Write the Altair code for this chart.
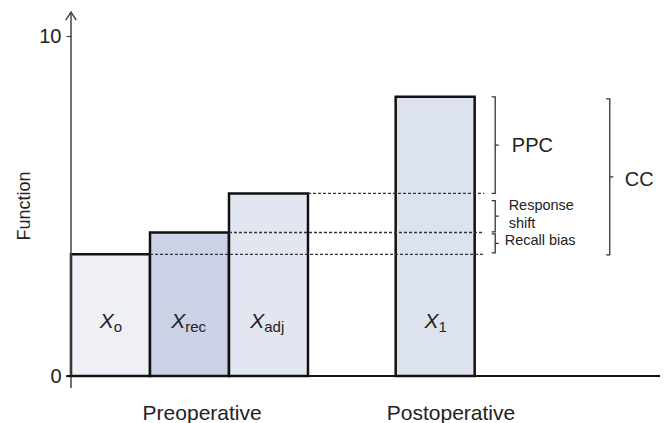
import altair as alt
import pandas as pd

# ---- data ----
bar_subs = ["o", "rec", "adj", "1"]
bar_start = [0.0, 1.0, 2.0, 4.11]
bar_values = [3.58, 4.22, 5.37, 8.21]
bar_colors = ["#eef0f6", "#cbd2e5", "#e2e6f1", "#dde2ef"]
bar_width = 1.0

dash_end = 5.23

bracket_names = ["PPC", "Response shift", "Recall bias", "CC"]
bracket_top = [8.21, 5.16, 4.18, 8.15]
bracket_bottom = [5.37, 4.24, 3.62, 3.56]
bracket_x = [5.37, 5.37, 5.37, 6.82]

y_ticks = [0, 10]
group_labels = ["Preoperative", "Postoperative"]
group_label_x = [1.66, 4.81]

FONT = "Liberation Sans"
XMAX = 7.456

# ---- tables ----
bars = pd.DataFrame({
    "sub": bar_subs,
    "x0": bar_start,
    "x1": [s + bar_width for s in bar_start],
    "v": bar_values,
})
bars["center"] = bars["x0"] + bar_width / 2
bars["lab_x"] = bars["center"] - (14 + bars["sub"].str.len() * 7.5) / 2 / 79
bars["yl"] = 1.41

dashes = pd.DataFrame({
    "x0": [s + bar_width for s in bar_start[:3]],
    "x1": [dash_end] * 3,
    "v": bar_values[:3],
})

rows = []
s = 0.045
for i, (nm, t, b, bx) in enumerate(zip(bracket_names, bracket_top, bracket_bottom, bracket_x)):
    m = (t + b) / 2
    pts = [(bx - s, t), (bx, t), (bx, m), (bx + s, m), (bx, m), (bx, b), (bx - s, b)]
    for k, (px, py) in enumerate(pts):
        rows.append({"id": i, "o": k, "x": px, "y": py})
brackets = pd.DataFrame(rows)

xs = alt.Scale(domain=[0, XMAX], nice=False, zero=False)
ys = alt.Scale(domain=[0, 10], nice=False, zero=False)
yax = alt.Axis(values=y_ticks, domain=False, grid=False, title=None,
               tickSize=5, tickColor="#444", tickWidth=1.2,
               labelFontSize=20, labelFont=FONT, labelColor="#222", labelPadding=5)


def X(f):
    return alt.X(f, scale=xs, axis=None)


def Y(f):
    return alt.Y(f, scale=ys, axis=yax)


base_bars = alt.Chart(bars).mark_rect(stroke="#111", strokeWidth=2.5).encode(
    x=X("x0:Q"), x2="x1:Q",
    y=Y("v:Q"), y2=alt.datum(0),
    fill=alt.Fill("sub:N", scale=alt.Scale(domain=bar_subs, range=bar_colors), legend=None),
)

dash_layer = alt.Chart(dashes).mark_rule(color="#333", strokeWidth=1.3, strokeDash=[3, 2]).encode(
    x=X("x0:Q"), x2="x1:Q", y=Y("v:Q"),
)

bracket_layer = alt.Chart(brackets).mark_line(color="#333", strokeWidth=1.3).encode(
    x=X("x:Q"), y=Y("y:Q"), detail="id:N", order="o:Q",
)

# axes drawn by hand (arrowed y axis, thick baseline)
yaxis_line = alt.Chart(pd.DataFrame({"x": [0.0], "y0": [-0.35], "y1": [10.7]})).mark_rule(
    color="#444", strokeWidth=1.5).encode(x=X("x:Q"), y=Y("y0:Q"), y2="y1:Q")
arrow = alt.Chart(pd.DataFrame({"x": [0.0], "y": [10.7]})).mark_point(
    shape="M-1,1.5L0,0L1,1.5", size=110, filled=False, color="#444", strokeWidth=1.5, opacity=1).encode(
    x=X("x:Q"), y=Y("y:Q"))
baseline = alt.Chart(pd.DataFrame({"x0": [-0.06], "x1": [XMAX], "y": [0.0]})).mark_rule(
    color="#111", strokeWidth=2.2).encode(x=X("x0:Q"), x2="x1:Q", y=Y("y:Q"))

# bar labels: italic X with subscript
xlab = alt.Chart(bars).mark_text(text="X", fontStyle="italic", fontSize=21, font=FONT, color="#222",
                                 align="left", baseline="alphabetic").encode(
    x=X("lab_x:Q"), y=Y("yl:Q"))
sublab = alt.Chart(bars).mark_text(fontSize=15, font=FONT, color="#222", align="left",
                                   baseline="alphabetic", dx=14, dy=4).encode(
    x=X("lab_x:Q"), y=Y("yl:Q"), text="sub:N")

group_df = pd.DataFrame({"t": group_labels, "x": group_label_x, "y": [-1.29, -1.29]})
group_text = alt.Chart(group_df).mark_text(fontSize=21, font=FONT, color="#222", baseline="alphabetic").encode(
    x=X("x:Q"), y=Y("y:Q"), text="t:N")

ytitle = alt.Chart(pd.DataFrame({"t": ["Function"], "x": [-0.58], "y": [5.0]})).mark_text(
    fontSize=18, font=FONT, color="#222", angle=270, baseline="middle").encode(
    x=X("x:Q"), y=Y("y:Q"), text="t:N")

side_df = pd.DataFrame({
    "t": ["PPC", "Response", "shift", "Recall bias", "CC"],
    "x": [5.58, 5.54, 5.54, 5.49, 7.01],
    "y": [6.76, 5.0, 4.47, 3.97, 5.76],
    "fs": [20, 14.5, 14.5, 14.5, 20],
})
side_text = alt.Chart(side_df).mark_text(font=FONT, color="#222", align="left", baseline="middle").encode(
    x=X("x:Q"), y=Y("y:Q"), text="t:N",
    size=alt.Size("fs:Q", scale=None, legend=None))

chart = alt.layer(
    base_bars, dash_layer, bracket_layer, yaxis_line, arrow, baseline,
    xlab, sublab, group_text, ytitle, side_text,
).properties(
    width=589, height=340,
    autosize=alt.AutoSizeParams(type="none"),
    padding={"left": 63, "top": 28, "right": 0, "bottom": 50},
    background="white",
).configure_view(stroke=None)

chart.save("out.html", embed_options={"renderer": "svg", "actions": False})
